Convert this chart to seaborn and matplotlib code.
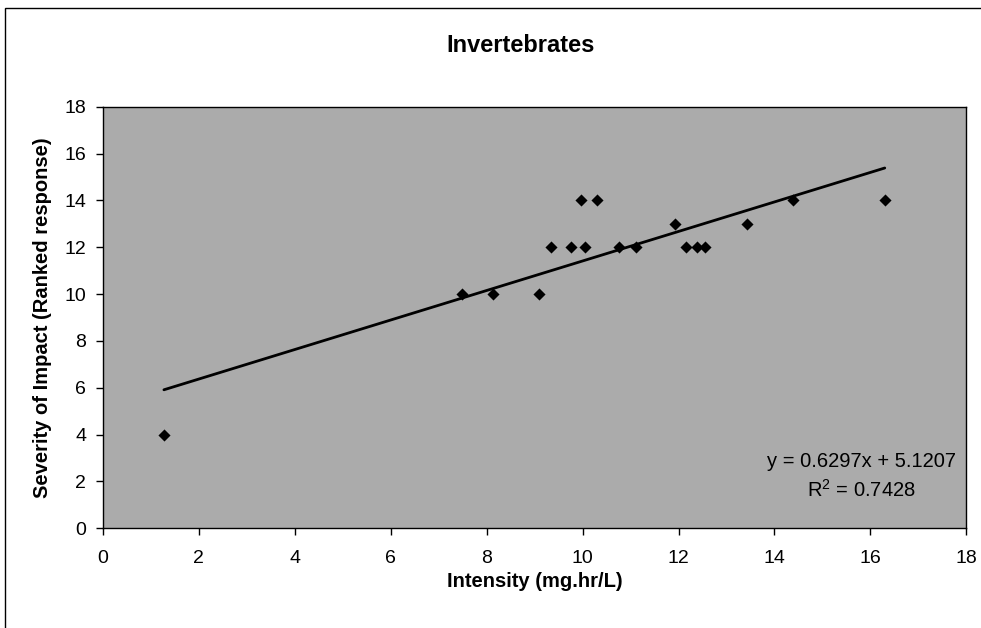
import numpy as np
import pandas as pd
import matplotlib
matplotlib.use('Agg')
import matplotlib.pyplot as plt
import seaborn as sns

# Data
intensity = [1.27, 7.48, 8.14, 9.10, 9.35, 9.76, 9.97, 10.05, 10.29,
             10.76, 11.12, 11.92, 12.15, 12.38, 12.56, 13.43, 14.39, 16.30]
severity = [4, 10, 10, 10, 12, 12, 14, 12, 14,
            12, 12, 13, 12, 12, 12, 13, 14, 14]
x_ticks = list(range(0, 19, 2))
y_ticks = list(range(0, 19, 2))
equation_text = "y = 0.6297x + 5.1207\n$\\mathregular{R^2}$ = 0.7428"

df = pd.DataFrame({'Intensity': intensity, 'Severity': severity})

sns.set_style('ticks')
plt.rcParams['font.family'] = ['Liberation Sans', 'DejaVu Sans']
plt.rcParams['text.color'] = 'black'
plt.rcParams['axes.labelcolor'] = 'black'
plt.rcParams['xtick.color'] = 'black'
plt.rcParams['ytick.color'] = 'black'

fig = plt.figure(figsize=(9.81, 6.28), dpi=100)
ax = fig.add_axes([0.105, 0.159, 0.880, 0.671])
ax.set_facecolor('#ababab')

sns.regplot(data=df, x='Intensity', y='Severity', ci=None, ax=ax, marker='D',
            scatter_kws={'s': 38, 'color': 'black', 'linewidths': 0, 'alpha': 1},
            line_kws={'color': 'black', 'linewidth': 2})

ax.set_xlim(0, 18)
ax.set_ylim(0, 18)
ax.set_xticks(x_ticks)
ax.set_yticks(y_ticks)
ax.tick_params(labelsize=14, length=5, width=1, color='black', direction='out')
ax.tick_params(axis='x', pad=11)
ax.tick_params(axis='y', pad=7)
for s in ax.spines.values():
    s.set_color('black')
    s.set_linewidth(1)

ax.set_xlabel('Intensity (mg.hr/L)', fontsize=14.5, fontweight='bold', labelpad=3)
ax.set_ylabel('Severity of Impact (Ranked response)', fontsize=14.5, fontweight='bold', labelpad=9)
fig.text(0.531, 0.928, 'Invertebrates', ha='center', va='center', fontsize=17, fontweight='bold')

ax.text(15.81, 2.2, equation_text, ha='center', va='center', fontsize=14.5,
        multialignment='center', linespacing=1.45)

# outer chart border (right and bottom edges fall outside the crop)
fig.add_artist(plt.Rectangle((0.005, -0.02), 1.0, 1.007, transform=fig.transFigure,
                             fill=False, edgecolor='black', linewidth=1))

fig.savefig('out.png', dpi=100)
